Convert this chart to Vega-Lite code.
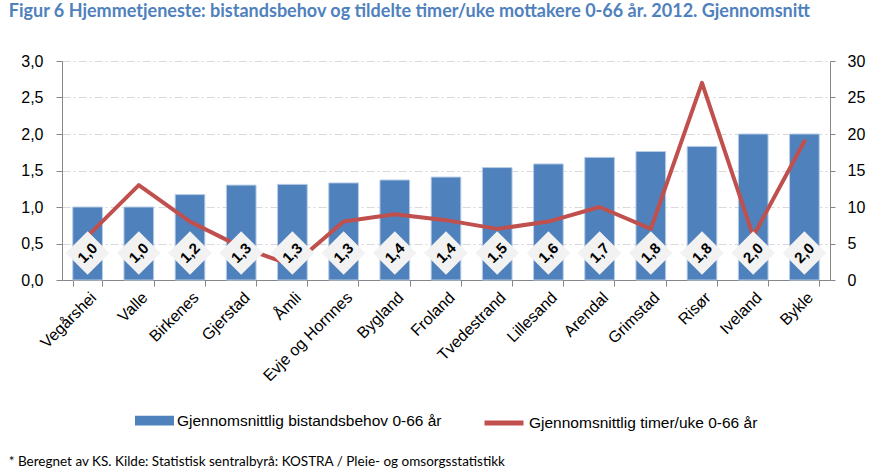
{
  "$schema": "https://vega.github.io/schema/vega-lite/v6.json",
  "padding": {"left": 8, "top": 3, "right": 10, "bottom": 2},
  "background": "white",
  "config": {
    "locale": {"number": {"decimal": ",", "thousands": "\u00a0", "grouping": [3], "currency": ["", " kr"]}},
    "font": "Liberation Sans",
    "view": {"stroke": null},
    "axis": {"labelFont": "Liberation Sans", "labelColor": "black", "domainColor": "#868686", "tickColor": "#868686", "titleFont": "Liberation Sans"},
    "legend": {"layout": {"bottom": {"anchor": "middle", "direction": "horizontal", "margin": 40}}}
  },
  "title": {
    "text": "* Beregnet av KS. Kilde: Statistisk sentralbyrå: KOSTRA / Pleie- og omsorgsstatistikk",
    "orient": "bottom",
    "anchor": "start",
    "frame": "bounds",
    "font": "Lato",
    "fontSize": 13.5,
    "fontWeight": "normal",
    "color": "black",
    "offset": 22
  },
  "vconcat": [
    {
      "width": 768,
      "height": 219,
      "title": {
        "text": "Figur 6 Hjemmetjeneste: bistandsbehov og tildelte timer/uke mottakere 0-66 år. 2012. Gjennomsnitt",
        "anchor": "start",
        "frame": "bounds",
        "font": "Lato",
        "fontSize": 18,
        "fontWeight": "bold",
        "color": "#4f81bd",
        "offset": 32,
        "dx": -12
      },
      "data": {
        "values": [
          {"kommune": "Vegårshei", "bistand": 1.0, "timer": 6},
          {"kommune": "Valle", "bistand": 1.0, "timer": 13},
          {"kommune": "Birkenes", "bistand": 1.17, "timer": 8},
          {"kommune": "Gjerstad", "bistand": 1.3, "timer": 4.5},
          {"kommune": "Åmli", "bistand": 1.31, "timer": 2},
          {"kommune": "Evje og Hornnes", "bistand": 1.33, "timer": 8},
          {"kommune": "Bygland", "bistand": 1.37, "timer": 9},
          {"kommune": "Froland", "bistand": 1.41, "timer": 8.2},
          {"kommune": "Tvedestrand", "bistand": 1.54, "timer": 7},
          {"kommune": "Lillesand", "bistand": 1.59, "timer": 8},
          {"kommune": "Arendal", "bistand": 1.68, "timer": 10},
          {"kommune": "Grimstad", "bistand": 1.76, "timer": 7},
          {"kommune": "Risør", "bistand": 1.83, "timer": 27},
          {"kommune": "Iveland", "bistand": 2.0, "timer": 6},
          {"kommune": "Bykle", "bistand": 2.0, "timer": 19}
        ]
      },
      "resolve": {"scale": {"y": "independent"}},
      "layer": [
        {
          "mark": {"type": "bar", "stroke": "#b9cde5", "strokeWidth": 1},
          "encoding": {
            "x": {
              "field": "kommune", "type": "nominal", "sort": null, "title": null,
              "scale": {"paddingInner": 0.42, "paddingOuter": 0.21},
              "axis": {"labelAngle": -45, "labelFontSize": 16, "tickBand": "extent", "tickSize": 6, "labelPadding": 3, "domainColor": "#868686"}
            },
            "y": {
              "field": "bistand", "type": "quantitative", "title": null,
              "scale": {"domain": [0, 3]},
              "axis": {"values": [0, 0.5, 1, 1.5, 2, 2.5, 3], "format": ".1f", "labelFontSize": 16, "tickSize": 6, "labelPadding": 13, "grid": true, "gridColor": "#d9d9d9", "gridDash": [8, 3, 2, 3], "domainColor": "#868686"}
            },
            "fill": {
              "datum": "Gjennomsnittlig bistandsbehov 0-66 år",
              "type": "nominal",
              "scale": {"range": ["#4f81bd"]},
              "legend": {
                "title": null,
                "orient": "bottom",
                "direction": "horizontal",
                "offset": 17,
                "labelFont": "Liberation Sans",
                "labelFontSize": 15.5,
                "labelColor": "black",
                "labelLimit": 400,
                "labelOffset": 3,
                "symbolSize": 1521,
                "symbolType": "M-1,-0.25H1V0.25H-1Z",
                "symbolStrokeWidth": 0,
                "symbolOpacity": 1
              }
            }
          }
        },
        {
          "mark": {"type": "line", "strokeWidth": 4, "strokeJoin": "round", "strokeCap": "round"},
          "encoding": {
            "x": {"field": "kommune", "type": "nominal", "sort": null},
            "y": {
              "field": "timer", "type": "quantitative", "title": null,
              "scale": {"domain": [0, 30]},
              "axis": {"orient": "right", "values": [0, 5, 10, 15, 20, 25, 30], "labelFontSize": 16, "tickSize": 5, "labelPadding": 12, "grid": false, "domainColor": "#868686"}
            },
            "stroke": {
              "datum": "Gjennomsnittlig timer/uke 0-66 år",
              "type": "nominal",
              "scale": {"range": ["#c0504d"]},
              "legend": {
                "title": null,
                "orient": "bottom",
                "direction": "horizontal",
                "offset": 17,
                "labelFont": "Liberation Sans",
                "labelFontSize": 15.5,
                "labelColor": "black",
                "labelLimit": 400,
                "labelOffset": 3,
                "symbolSize": 1521,
                "symbolType": "stroke",
                "symbolStrokeWidth": 5
              }
            }
          }
        },
        {
          "mark": {"type": "point", "shape": "M-1,0L0,-1L1,0L0,1Z", "filled": true, "size": 1900, "color": "#f2f2f2", "opacity": 1},
          "encoding": {
            "x": {"field": "kommune", "type": "nominal", "sort": null},
            "y": {"datum": 0.37, "type": "quantitative", "scale": {"domain": [0, 3]}, "axis": null}
          }
        },
        {
          "mark": {"type": "text", "angle": -45, "font": "Liberation Sans", "fontWeight": "bold", "fontSize": 15, "color": "black", "align": "center", "baseline": "middle"},
          "encoding": {
            "x": {"field": "kommune", "type": "nominal", "sort": null},
            "y": {"datum": 0.37, "type": "quantitative", "scale": {"domain": [0, 3]}, "axis": null},
            "text": {"field": "bistand", "type": "quantitative", "format": ".1f"}
          }
        }
      ]
    }
  ]
}
